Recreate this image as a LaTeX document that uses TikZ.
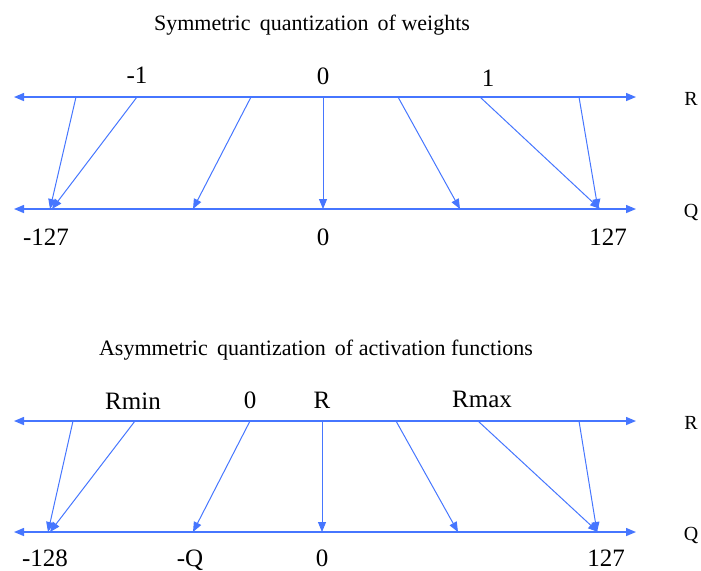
\documentclass[tikz,border=0pt]{standalone}
\usepackage{fontspec}
\setmainfont{Liberation Serif}
\usetikzlibrary{arrows.meta}
\definecolor{qblue}{RGB}{70,118,255}

\tikzset{
  axisline/.style={qblue,line width=0.7pt,{Triangle[length=5pt,width=4pt]}-{Triangle[length=5pt,width=4pt]}},
  mapline/.style={qblue,line width=0.5pt,-{Triangle[length=5pt,width=4pt]}},
  val/.style={font=\fontsize{12.5}{14}\selectfont,inner sep=0pt,anchor=base},
  ttl/.style={font=\fontsize{11}{13}\selectfont,inner sep=0pt},
  axlbl/.style={font=\fontsize{10}{12}\selectfont,inner sep=0pt}
}

\begin{document}
\begin{tikzpicture}[x=0.5pt,y=-0.5pt]
    \useasboundingbox (0,0) rectangle (701,570);

    % symmetric (weights)
    \node[ttl] (ttlw) at (312,25) {Symmetric\, quantization\, of weights};
    \coordinate (rwl) at (14,97);  \coordinate (rwr) at (636,97);
    \coordinate (qwl) at (14,209); \coordinate (qwr) at (636,209);
    \draw[axisline] (rwl) -- (rwr);
    \draw[axisline] (qwl) -- (qwr);
    \node[axlbl] (rw) at (691,99) {R};
    \node[axlbl] (qw) at (691,212) {Q};
    \foreach \a/\b [count=\i] in {76/50,137/52,251/193,323/323,398/460,480/600,579/598} {
        \coordinate (rw\i) at (\a,97);
        \coordinate (qw\i) at (\b,209);
        \draw[mapline] (rw\i) -- (qw\i);
    }
    \node[val] (wm1) at (137,83) {-1};
    \node[val] (wz) at (323,84) {0};
    \node[val] (wp1) at (488,86) {1};
    \node[val] (wqmin) at (46,245) {-127};
    \node[val] (wqz) at (323,245) {0};
    \node[val] (wqmax) at (608,245) {127};

    % asymmetric (activations)
    \node[ttl] (ttla) at (316,350) {Asymmetric\, quantization\, of activation functions};
    \coordinate (ral) at (14,421);  \coordinate (rar) at (636,421);
    \coordinate (qal) at (14,532);  \coordinate (qar) at (636,532);
    \draw[axisline] (ral) -- (rar);
    \draw[axisline] (qal) -- (qar);
    \node[axlbl] (ra) at (691,423) {R};
    \node[axlbl] (qa) at (691,535) {Q};
    \foreach \a/\b [count=\i] in {73/48,135/50,250/193,322/322,396/458,478/598,579/597} {
        \coordinate (ra\i) at (\a,421);
        \coordinate (qa\i) at (\b,532);
        \draw[mapline] (ra\i) -- (qa\i);
    }
    \node[val] (armin) at (133,409) {Rmin};
    \node[val] (az) at (250,408) {0};
    \node[val] (ar) at (322,408) {R};
    \node[val] (armax) at (482,407) {Rmax};
    \node[val] (aqmin) at (45,566) {-128};
    \node[val] (aqz) at (190,566) {-Q};
    \node[val] (aqzero) at (322,566) {0};
    \node[val] (aqmax) at (606,566) {127};
\end{tikzpicture}
\end{document}
